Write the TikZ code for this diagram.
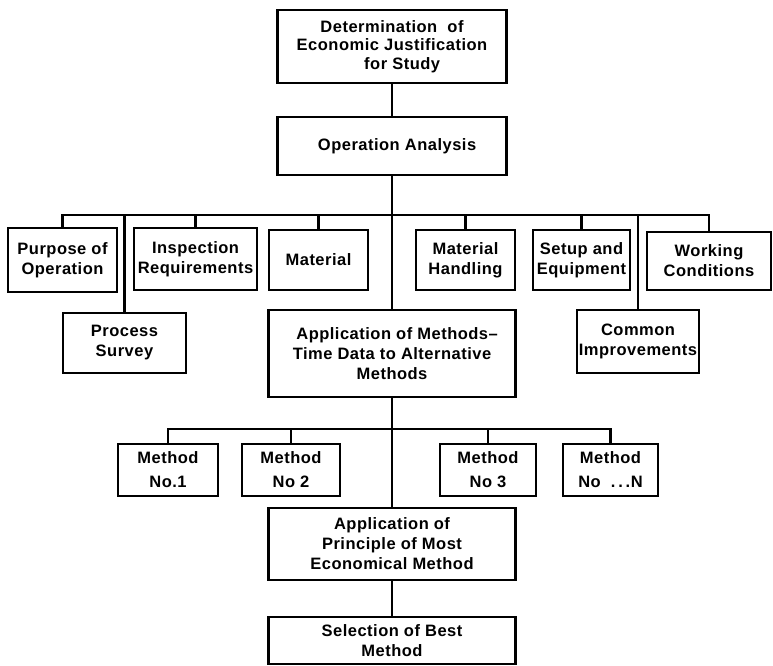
\documentclass[tikz,border=0pt]{standalone}
\usepackage{fontspec}
\setmainfont{Liberation Sans}[LetterSpace=3]
\begin{document}
\begin{tikzpicture}[x=1pt,y=-1pt,
  box/.style={draw, line width=2.4pt, align=center, inner sep=0pt,
    font=\fontsize{16.5}{20}\selectfont\bfseries},
  methodbox/.style={box, minimum height=52, font=\fontsize{16.5}{24}\selectfont\bfseries},
  link/.style={line width=2.8pt}]
\useasboundingbox (0,0) rectangle (773,666);

% main column
\node[box, minimum width=229, minimum height=73, font=\fontsize{16.5}{18.5}\selectfont\bfseries] (top) at (392,46.5)
  {Determination\ \ of\\Economic Justification\\\ \ \ \ for Study};
\node[box, minimum width=229, minimum height=58] (opan) at (392,146) {\ \ Operation Analysis};

% analysis topics
\node[box, minimum width=109, minimum height=64] (purpose) at (62.5,260) {Purpose of\\Operation};
\node[box, minimum width=123, minimum height=60] (survey) at (124.5,343) {Process\\Survey};
\node[box, minimum width=123, minimum height=62] (insp) at (195.5,259) {Inspection\\Requirements};
\node[box, minimum width=99, minimum height=60] (material) at (318.5,260) {Material};
\node[box, minimum width=99, minimum height=60] (handling) at (465.5,260) {Material\\Handling};
\node[box, minimum width=97, minimum height=60] (setup) at (581.5,260) {Setup and\\Equipment};
\node[box, minimum width=122, minimum height=63] (common) at (638,341.5) {Common\\Improvements};
\node[box, minimum width=124, minimum height=58] (working) at (709,261) {Working\\Conditions};

\node[box, minimum width=247, minimum height=87] (app) at (392,353.5)
  {\ \ Application of Methods--\\Time Data to Alternative\\Methods};

% alternative methods
\node[methodbox, minimum width=100] (m1) at (168,470) {Method\\No.1};
\node[methodbox, minimum width=98] (m2) at (291,470) {Method\\No 2};
\node[methodbox, minimum width=96] (m3) at (488,470) {Method\\No 3};
\node[methodbox, minimum width=95] (mN) at (610.5,470) {Method\\No\ \ .\,.\,.N};

\node[box, minimum width=247, minimum height=72] (principle) at (392,544)
  {Application of\\Principle of Most\\Economical Method};
\node[box, minimum width=247, minimum height=47] (selection) at (392,640.5)
  {Selection of Best\\Method};

% bus lines
\coordinate (bus) at (392,215);
\coordinate (mbus) at (392,429);

\draw[link] (top.south) -- (opan.north);
\draw[link] (opan.south) -- (app.north);
\draw[link] (purpose.north) -- (purpose.north |- bus) -- (working.north |- bus) -- (working.north);
\foreach \n in {survey,insp,material,handling,setup,common}
  \draw[link] (\n.north) -- (\n.north |- bus);

\draw[link] (app.south) -- (principle.north);
\draw[link] (m1.north) -- (m1.north |- mbus) -- (mN.north |- mbus) -- (mN.north);
\foreach \n in {m2,m3}
  \draw[link] (\n.north) -- (\n.north |- mbus);
\draw[link] (principle.south) -- (selection.north);
\end{tikzpicture}
\end{document}
